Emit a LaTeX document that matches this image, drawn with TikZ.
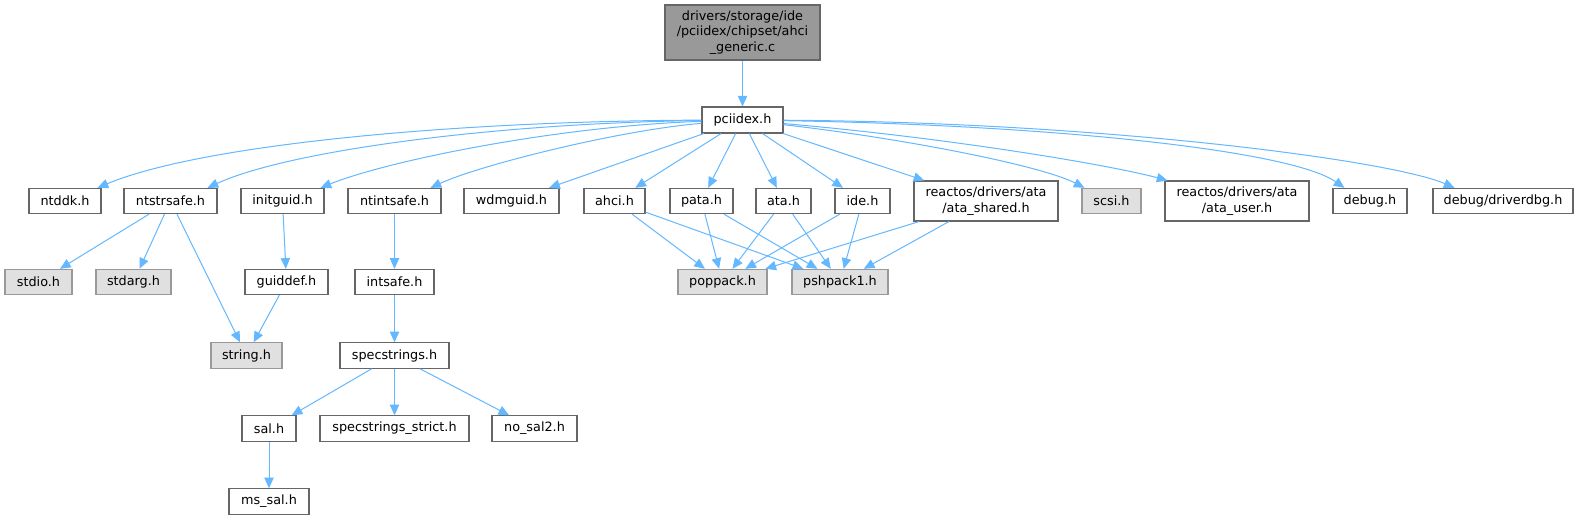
\documentclass[tikz,border=0pt]{standalone}
\usepackage{fontspec}
\setmainfont{DejaVu Sans}
\usetikzlibrary{arrows.meta,calc}
\definecolor{edgeblue}{HTML}{63B8FF}
\definecolor{boxline}{HTML}{666666}
\definecolor{sysline}{HTML}{999999}
\definecolor{sysfill}{HTML}{E0E0E0}
\definecolor{topfill}{HTML}{999999}
\tikzset{file node/.style={rectangle, draw=boxline, fill=white, line width=0.8pt, inner sep=0pt, minimum height=19pt, font=\fontsize{9.6}{11.5}\selectfont, align=center},
  sys node/.style={file node, draw=sysline, fill=sysfill},
  top node/.style={file node, fill=topfill},
  dep/.style={draw, color=edgeblue, line width=0.75pt, -{Triangle[length=8pt,width=7pt]}},}

\begin{document}
\begin{tikzpicture}[x=0.75pt, y=-0.75pt]
        \fill[white] (0,0) rectangle (1578,520);
        \useasboundingbox (0,0) rectangle (1578,520);
        % Nodes
        \node[top node, minimum width=116.25pt, minimum height=41.25pt] (top) at (742.5,32.5) {drivers/storage/ide\\/pciidex/chipset/ahci\\\_generic.c};
        \node[file node, minimum width=60.75pt, minimum height=19.5pt] (pci) at (742.5,120) {pciidex.h};
        % row of direct includes
        \node[file node, minimum width=54pt] (ntddk) at (65,201) {ntddk.h};
        \node[file node, minimum width=69.75pt] (ntstrsafe) at (170.5,201) {ntstrsafe.h};
        \node[file node, minimum width=62.25pt] (initguid) at (282.5,201) {initguid.h};
        \node[file node, minimum width=69.75pt] (ntintsafe) at (394.5,201) {ntintsafe.h};
        \node[file node, minimum width=71.25pt] (wdmguid) at (511.5,201) {wdmguid.h};
        \node[file node, minimum width=45.75pt] (ahci) at (614.5,201) {ahci.h};
        \node[file node, minimum width=47.25pt] (pata) at (701.5,201) {pata.h};
        \node[file node, minimum width=41.25pt] (ata) at (783.5,201) {ata.h};
        \node[file node, minimum width=41.25pt] (ide) at (862.5,201) {ide.h};
        \node[file node, minimum width=108pt, minimum height=30pt] (atashared) at (986,201) {reactos/drivers/ata\\/ata\_shared.h};
        \node[sys node, minimum width=44.25pt] (scsi) at (1111.5,201) {scsi.h};
        \node[file node, minimum width=108pt, minimum height=30pt] (atauser) at (1237,201) {reactos/drivers/ata\\/ata\_user.h};
        \node[file node, minimum width=55.5pt] (debug) at (1370,201) {debug.h};
        \node[file node, minimum width=105pt] (driverdbg) at (1503,201) {debug/driverdbg.h};
        % deeper includes
        \node[sys node, minimum width=50.25pt] (stdio) at (38.5,282) {stdio.h};
        \node[sys node, minimum width=56.25pt] (stdarg) at (133.5,282) {stdarg.h};
        \node[file node, minimum width=62.25pt] (guiddef) at (286.5,282) {guiddef.h};
        \node[file node, minimum width=59.25pt] (intsafe) at (394.5,282) {intsafe.h};
        \node[sys node, minimum width=66.75pt] (poppack) at (722.5,282) {poppack.h};
        \node[sys node, minimum width=72pt] (pshpack) at (840,282) {pshpack1.h};
        \node[sys node, minimum width=53.25pt] (string) at (246.5,355.5) {string.h};
        \node[file node, minimum width=81.75pt] (specstrings) at (394.5,355.5) {specstrings.h};
        \node[file node, minimum width=40.5pt] (sal) at (269,428.5) {sal.h};
        \node[file node, minimum width=111.75pt] (strict) at (394.5,428.5) {specstrings\_strict.h};
        \node[file node, minimum width=63.75pt] (nosal) at (534.5,428.5) {no\_sal2.h};
        \node[file node, minimum width=60pt] (mssal) at (269,501.5) {ms\_sal.h};
        % Paths
        \path[dep]
        (top) edge (pci)
        (pci) edge (wdmguid)
        (pci) edge (ahci)
        (pci) edge (pata)
        (pci) edge (ata)
        (pci) edge (ide)
        (pci) edge (atashared)
        (ntstrsafe) edge (stdio)
        (ntstrsafe) edge (stdarg)
        (ntstrsafe) edge (string)
        (initguid) edge (guiddef)
        (guiddef) edge (string)
        (ntintsafe) edge (intsafe)
        (intsafe) edge (specstrings)
        (specstrings) edge (sal)
        (specstrings) edge (strict)
        (specstrings) edge (nosal)
        (sal) edge (mssal)
        (ahci) edge (poppack)
        (ahci) edge (pshpack)
        (pata) edge (poppack)
        (pata) edge (pshpack)
        (ata) edge (poppack)
        (ata) edge (pshpack)
        (ide) edge (poppack)
        (ide) edge (pshpack)
        (atashared) edge (poppack)
        (atashared) edge (pshpack);
        % long curved includes
        \draw[dep] (pci) .. controls (450,121) and (200,145) .. ($(ntddk.north east)+(-4,0)$);
        \draw[dep] (pci) .. controls (500,123) and (290,150) .. ($(ntstrsafe.north east)+(-10,0)$);
        \draw[dep] (pci) .. controls (560,126) and (390,160) .. ($(initguid.north east)+(-4,0)$);
        \draw[dep] (pci) .. controls (620,130) and (480,165) .. ($(ntintsafe.north east)+(-11,0)$);
        \draw[dep] (pci) .. controls (900,138) and (1040,165) .. ($(scsi.north west)+(3,0)$);
        \draw[dep] (pci) .. controls (950,138) and (1110,165) .. ($(atauser.north west)+(3,0)$);
        \draw[dep] (pci) .. controls (1050,125) and (1290,150) .. ($(debug.north west)+(12,0)$);
        \draw[dep] (pci) .. controls (1100,122) and (1390,160) .. ($(driverdbg.north west)+(22,0)$);
    \end{tikzpicture}
\end{document}
